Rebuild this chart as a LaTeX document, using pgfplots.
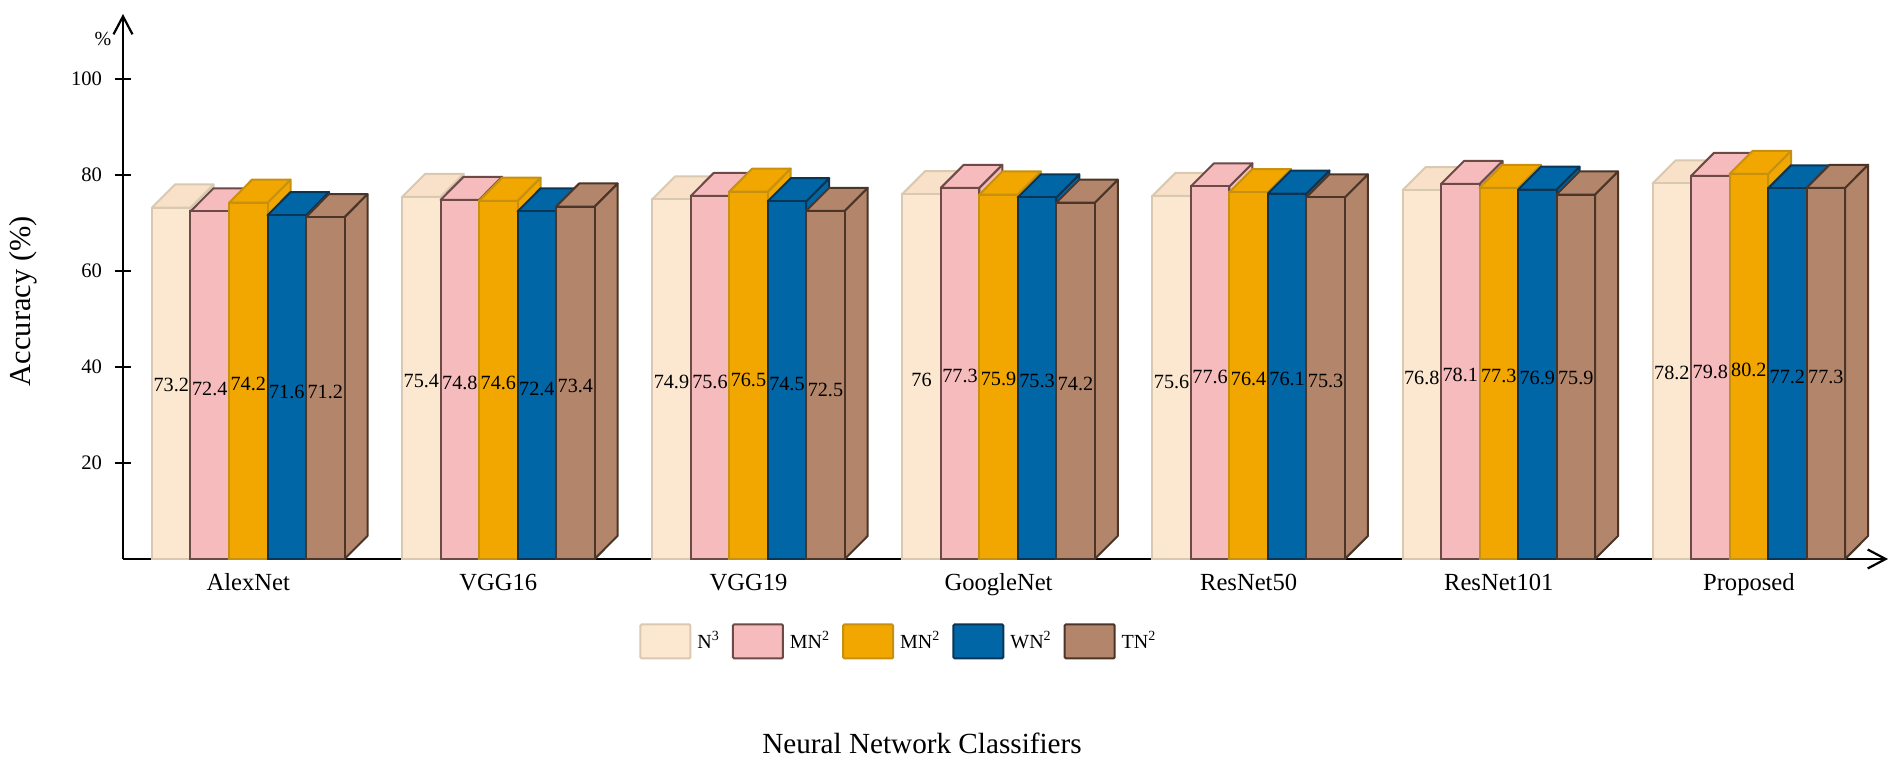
\documentclass[border=0pt]{standalone}
\usepackage{fontspec}
\setmainfont{Liberation Serif}
\usepackage{pgfplots}
\pgfplotsset{compat=1.18}
\usetikzlibrary{arrows.meta}

\definecolor{cream}{HTML}{FCE8D0}
\definecolor{creamT}{HTML}{F9E1C9}
\definecolor{creamE}{HTML}{D9C9B0}
\definecolor{pinkb}{HTML}{F6BBBC}
\definecolor{pinkE}{HTML}{6B4A48}
\definecolor{orangeb}{HTML}{F1A600}
\definecolor{orangeE}{HTML}{C8900F}
\definecolor{blueb}{HTML}{0066A6}
\definecolor{blueE}{HTML}{0B3555}
\definecolor{brownb}{HTML}{B3866B}
\definecolor{brownE}{HTML}{4A3528}

% top and side face of one bar: centre x (px), value, colours
\newcommand{\shell}[3]{%
  \pgfmathsetmacro\xl{#1-19.25}\pgfmathsetmacro\xr{#1+19.25}%
  \pgfmathsetmacro\xll{\xl+23}\pgfmathsetmacro\xrr{\xr+23}%
  \pgfmathsetmacro\yt{#2+4.8}%
  \addplot[forget plot,shellface,#3] coordinates {(\xr,0) (\xrr,4.8) (\xrr,\yt) (\xr,#2)} -- cycle;
  \addplot[forget plot,shellface,#3] coordinates {(\xl,#2) (\xll,\yt) (\xrr,\yt) (\xr,#2)} -- cycle;
}

\begin{document}
\begin{tikzpicture}
\path[use as bounding box] (0,0) rectangle (951pt,380.5pt);
\begin{axis}[
  at={(61.5pt,101pt)}, anchor=south west,
  scale only axis, width=882.5pt, height=272.5pt,
  xmin=123, xmax=1888, ymin=0, ymax=113.5,
  clip=false,
  axis lines=left,
  axis line style={line width=1.1pt,-{Straight Barb[length=9pt,width=9.5pt,line width=1.1pt]}},
  ytick={20,40,60,80,100},
  xtick={248.25,498.35,748.45,998.55,1248.65,1498.75,1748.85},
  xticklabels={AlexNet,VGG16,VGG19,GoogleNet,ResNet50,ResNet101,Proposed},
  x tick style={draw=none},
  y tick style={black,line width=1.1pt},
  tick align=center,
  major tick length=8pt,
  /pgf/number format/assume math mode=true,
  yticklabel style={font=\fontsize{10.3}{12}\selectfont,xshift=-3pt},
  xticklabel style={font=\fontsize{12.3}{13}\selectfont,text height=8.5pt,text depth=2.5pt,yshift=0.5pt},
  xlabel={Neural Network Classifiers},
  ylabel={Accuracy (\%)},
  xlabel style={font=\fontsize{14.6}{15}\selectfont,at={(axis description cs:0.4527,-0.3376)},anchor=center},
  ylabel style={font=\fontsize{15.2}{16}\selectfont,at={(axis description cs:-0.0567,0.473)},anchor=center,rotate=0},
  legend columns=5,
  legend cell align=left,
  legend style={draw=none,fill=none,font=\fontsize{10}{11}\selectfont,
    at={(axis description cs:0.2924,-0.1174)},anchor=north west,inner sep=0pt,
    /tikz/every odd column/.append style={column sep=2pt},
    /tikz/every even column/.append style={column sep=5pt},
    nodes={inner sep=1pt}},
  shellface/.style={line width=1pt,line join=round},
  front/.style={ybar,bar width=19.25pt,bar shift=0pt,line width=1pt,
    legend image code/.code={\draw[##1,rounded corners=0.6pt] (0pt,-8.5pt) rectangle (25pt,8.5pt);}},
]
% N3
\shell{171.25}{73.2}{fill=creamT,draw=creamE}
\shell{421.35}{75.4}{fill=creamT,draw=creamE}
\shell{671.45}{74.9}{fill=creamT,draw=creamE}
\shell{921.55}{76}{fill=creamT,draw=creamE}
\shell{1171.65}{75.6}{fill=creamT,draw=creamE}
\shell{1421.75}{76.8}{fill=creamT,draw=creamE}
\shell{1671.85}{78.2}{fill=creamT,draw=creamE}
\addplot[front,fill=cream,draw=creamE] coordinates {
  (171.25,73.2) (421.35,75.4) (671.45,74.9) (921.55,76) (1171.65,75.6) (1421.75,76.8) (1671.85,78.2)};
\addlegendentry{N\textsuperscript{3}}
% MN2
\shell{209.75}{72.4}{fill=pinkb,draw=pinkE}
\shell{459.85}{74.8}{fill=pinkb,draw=pinkE}
\shell{709.95}{75.6}{fill=pinkb,draw=pinkE}
\shell{960.05}{77.3}{fill=pinkb,draw=pinkE}
\shell{1210.15}{77.6}{fill=pinkb,draw=pinkE}
\shell{1460.25}{78.1}{fill=pinkb,draw=pinkE}
\shell{1710.35}{79.8}{fill=pinkb,draw=pinkE}
\addplot[front,fill=pinkb,draw=pinkE] coordinates {
  (209.75,72.4) (459.85,74.8) (709.95,75.6) (960.05,77.3) (1210.15,77.6) (1460.25,78.1) (1710.35,79.8)};
\addlegendentry{MN\textsuperscript{2}}
% MN2 (second)
\shell{248.25}{74.2}{fill=orangeb,draw=orangeE}
\shell{498.35}{74.6}{fill=orangeb,draw=orangeE}
\shell{748.45}{76.5}{fill=orangeb,draw=orangeE}
\shell{998.55}{75.9}{fill=orangeb,draw=orangeE}
\shell{1248.65}{76.4}{fill=orangeb,draw=orangeE}
\shell{1498.75}{77.3}{fill=orangeb,draw=orangeE}
\shell{1748.85}{80.2}{fill=orangeb,draw=orangeE}
\addplot[front,fill=orangeb,draw=orangeE] coordinates {
  (248.25,74.2) (498.35,74.6) (748.45,76.5) (998.55,75.9) (1248.65,76.4) (1498.75,77.3) (1748.85,80.2)};
\addlegendentry{MN\textsuperscript{2}}
% WN2
\shell{286.75}{71.6}{fill=blueb,draw=blueE}
\shell{536.85}{72.4}{fill=blueb,draw=blueE}
\shell{786.95}{74.5}{fill=blueb,draw=blueE}
\shell{1037.05}{75.3}{fill=blueb,draw=blueE}
\shell{1287.15}{76.1}{fill=blueb,draw=blueE}
\shell{1537.25}{76.9}{fill=blueb,draw=blueE}
\shell{1787.35}{77.2}{fill=blueb,draw=blueE}
\addplot[front,fill=blueb,draw=blueE] coordinates {
  (286.75,71.6) (536.85,72.4) (786.95,74.5) (1037.05,75.3) (1287.15,76.1) (1537.25,76.9) (1787.35,77.2)};
\addlegendentry{WN\textsuperscript{2}}
% TN2
\shell{325.25}{71.2}{fill=brownb,draw=brownE}
\shell{575.35}{73.4}{fill=brownb,draw=brownE}
\shell{825.45}{72.5}{fill=brownb,draw=brownE}
\shell{1075.55}{74.2}{fill=brownb,draw=brownE}
\shell{1325.65}{75.3}{fill=brownb,draw=brownE}
\shell{1575.75}{75.9}{fill=brownb,draw=brownE}
\shell{1825.85}{77.3}{fill=brownb,draw=brownE}
\addplot[front,fill=brownb,draw=brownE] coordinates {
  (325.25,71.2) (575.35,73.4) (825.45,72.5) (1075.55,74.2) (1325.65,75.3) (1575.75,75.9) (1825.85,77.3)};
\addlegendentry{TN\textsuperscript{2}}
% value labels, written across the middle of the bars
\addplot[forget plot,draw=none,mark=none,point meta=explicit symbolic,
  nodes near coords,
  nodes near coords style={anchor=center,text=black,inner sep=0pt,font=\fontsize{10.1}{11}\selectfont}]
  coordinates {
  (171.25,36.3)[73.2] (209.75,35.4)[72.4] (248.25,36.5)[74.2] (286.75,34.8)[71.6] (325.25,34.8)[71.2]
  (421.35,37.1)[75.4] (459.85,36.6)[74.8] (498.35,36.6)[74.6] (536.85,35.4)[72.4] (575.35,36.1)[73.4]
  (671.45,36.8)[74.9] (709.95,36.9)[75.6] (748.45,37.3)[76.5] (786.95,36.5)[74.5] (825.45,35.3)[72.5]
  (921.55,37.4)[76] (960.05,38.1)[77.3] (998.55,37.4)[75.9] (1037.05,37.1)[75.3] (1075.55,36.5)[74.2]
  (1171.65,36.9)[75.6] (1210.15,38.0)[77.6] (1248.65,37.4)[76.4] (1287.15,37.4)[76.1] (1325.65,37.1)[75.3]
  (1421.75,37.8)[76.8] (1460.25,38.3)[78.1] (1498.75,38.1)[77.3] (1537.25,37.8)[76.9] (1575.75,37.6)[75.9]
  (1671.85,38.7)[78.2] (1710.35,39.0)[79.8] (1748.85,39.4)[80.2] (1787.35,38.0)[77.2] (1825.85,38.0)[77.3]
};
\node[font=\fontsize{10}{11}\selectfont] at (axis cs:103,108.3) {\%};
\end{axis}
\end{tikzpicture}
\end{document}
